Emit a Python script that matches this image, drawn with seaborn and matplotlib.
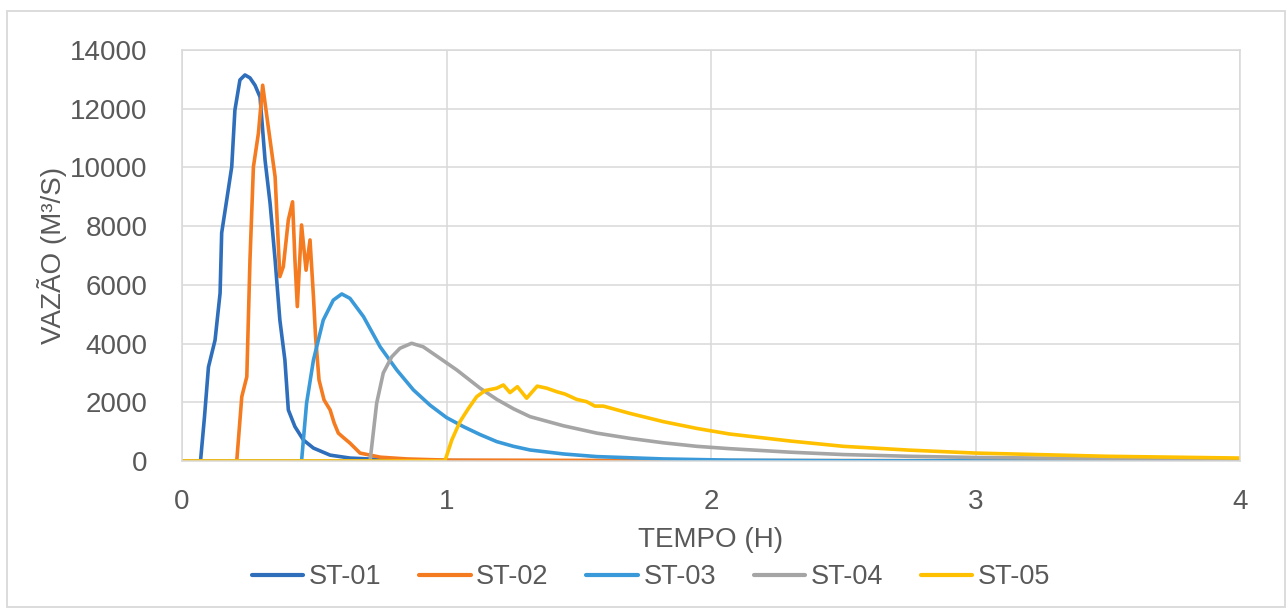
import matplotlib
matplotlib.use("Agg")
import matplotlib.pyplot as plt
import matplotlib.patches as mpatches
import seaborn as sns
import pandas as pd

# ---- data ----
series_names = ["ST-01", "ST-02", "ST-03", "ST-04", "ST-05"]

t_st01 = [0, 0.07, 0.085, 0.10, 0.125, 0.144, 0.15, 0.169, 0.188, 0.20, 0.219, 0.238, 0.257,
          0.276, 0.295, 0.314, 0.333, 0.352, 0.370, 0.389, 0.402, 0.427, 0.459, 0.497, 0.56,
          0.635, 0.75, 0.9, 1.1, 1.5, 2, 3, 4]
q_st01 = [0, 0, 1500, 3200, 4120, 5720, 7770, 8890, 10020, 11950, 12980, 13150, 13050,
          12800, 12400, 10250, 8780, 6850, 4800, 3440, 1740, 1170, 715, 440, 200,
          100, 50, 20, 10, 5, 0, 0, 0]

t_st02 = [0, 0.207, 0.226, 0.245, 0.257, 0.27, 0.289, 0.305, 0.326, 0.352, 0.370, 0.383,
          0.402, 0.418, 0.427, 0.436, 0.452, 0.469, 0.484, 0.497, 0.505, 0.518, 0.537, 0.56,
          0.575, 0.591, 0.61, 0.635, 0.673, 0.75, 0.85, 1.0, 1.5, 2, 3, 4]
q_st02 = [0, 0, 2190, 2870, 6850, 10020, 11170, 12800, 11390, 9680, 6280, 6620,
          8210, 8830, 6850, 5260, 8040, 6500, 7530, 5600, 4230, 2760, 2080, 1740,
          1300, 950, 800, 610, 270, 130, 70, 30, 20, 15, 10, 5]

t_st03 = [0, 0.452, 0.471, 0.497, 0.534, 0.572, 0.604, 0.635, 0.686, 0.749, 0.812, 0.875,
          0.938, 1.0, 1.064, 1.127, 1.19, 1.253, 1.316, 1.442, 1.568, 1.82, 2.07, 2.5, 3, 4]
q_st03 = [0, 0, 1970, 3440, 4800, 5480, 5690, 5540, 4920, 3890, 3100, 2420,
          1900, 1480, 1170, 900, 660, 500, 375, 240, 150, 70, 30, 10, 5, 0]

t_st04 = [0, 0.711, 0.736, 0.761, 0.793, 0.824, 0.868, 0.912, 0.975, 1.039, 1.127, 1.19,
          1.253, 1.316, 1.442, 1.568, 1.694, 1.82, 1.946, 2.07, 2.3, 2.5, 2.75, 3, 3.5, 4]
q_st04 = [0, 0, 1970, 3000, 3550, 3840, 4010, 3890, 3500, 3100, 2480, 2100,
          1780, 1510, 1200, 950, 770, 620, 500, 420, 300, 220, 160, 120, 80, 60]

t_st05 = [0, 0.994, 1.02, 1.051, 1.083, 1.114, 1.146, 1.19, 1.215, 1.24, 1.268, 1.303,
          1.343, 1.379, 1.417, 1.448, 1.492, 1.53, 1.561, 1.593, 1.694, 1.82, 1.946, 2.07,
          2.3, 2.5, 2.75, 3, 3.5, 4]
q_st05 = [0, 0, 715, 1340, 1790, 2190, 2400, 2480, 2590, 2330, 2530, 2140,
          2550, 2480, 2360, 2280, 2100, 2020, 1870, 1870, 1620, 1340, 1110, 920,
          680, 500, 370, 270, 160, 100]

x_ticks = [0, 1, 2, 3, 4]
y_ticks = [0, 2000, 4000, 6000, 8000, 10000, 12000, 14000]
x_label = "TEMPO (H)"
y_label = "VAZÃO (M³/S)"

colors = ["#2F6EBA", "#F47B20", "#3A9AD9", "#A5A5A5", "#FFC000"]

# ---- build long-form table ----
frames = []
for name, t, q in zip(series_names,
                      [t_st01, t_st02, t_st03, t_st04, t_st05],
                      [q_st01, q_st02, q_st03, q_st04, q_st05]):
    frames.append(pd.DataFrame({"t": t, "q": q, "serie": name}))
df = pd.concat(frames, ignore_index=True)

# ---- plot ----
sns.set_theme(style="white")
plt.rcParams["font.family"] = ["Liberation Sans", "DejaVu Sans"]
plt.rcParams["lines.solid_joinstyle"] = "round"
plt.rcParams["lines.solid_capstyle"] = "round"
text_color = "#595959"
grid_color = "#D9D9D9"

fig = plt.figure(figsize=(12.88, 6.10), dpi=100)
ax = fig.add_axes([182 / 1288, 1 - 461 / 610, (1240 - 182) / 1288, (461 - 50) / 610])

sns.lineplot(data=df, x="t", y="q", hue="serie", hue_order=series_names,
             palette=colors, estimator=None, sort=True, linewidth=2.6, ax=ax)

ax.set_xlim(0, 4)
ax.set_ylim(0, 14000)
ax.set_xticks(x_ticks)
ax.set_yticks(y_ticks)
ax.set_xticklabels([str(v) for v in x_ticks])
ax.set_yticklabels([str(v) for v in y_ticks])
ax.tick_params(axis="both", length=0, labelsize=20, colors=text_color)
ax.tick_params(axis="y", pad=25)
ax.tick_params(axis="x", pad=20)
ax.grid(True, color=grid_color, linewidth=1.1)
ax.set_axisbelow(True)
for s in ax.spines.values():
    s.set_color(grid_color)
    s.set_linewidth(1.1)

ax.set_xlabel(x_label, fontsize=20, color=text_color, va="center")
ax.set_ylabel(y_label, fontsize=20, color=text_color, va="center")
ax.xaxis.set_label_coords(0.5, (461 - 540) / 411)
ax.yaxis.set_label_coords((52 - 182) / 1058, 0.5)

handles, labels = ax.get_legend_handles_labels()
ax.get_legend().remove()
leg = fig.legend(handles, labels, loc="center", bbox_to_anchor=(651 / 1288, 1 - 577 / 610),
                 ncol=5, frameon=False, fontsize=19.5, handlelength=1.9,
                 handletextpad=0.2, columnspacing=1.4)
for txt in leg.get_texts():
    txt.set_color(text_color)
for h in leg.legend_handles:
    h.set_linewidth(3)

# outer chart border
fig.patches.append(mpatches.Rectangle((7 / 1288, 1 - 607 / 610), (1285 - 7) / 1288,
                                      (607 - 11) / 610, transform=fig.transFigure,
                                      fill=False, edgecolor=grid_color, linewidth=1.3))

fig.savefig("out.png", dpi=100)
